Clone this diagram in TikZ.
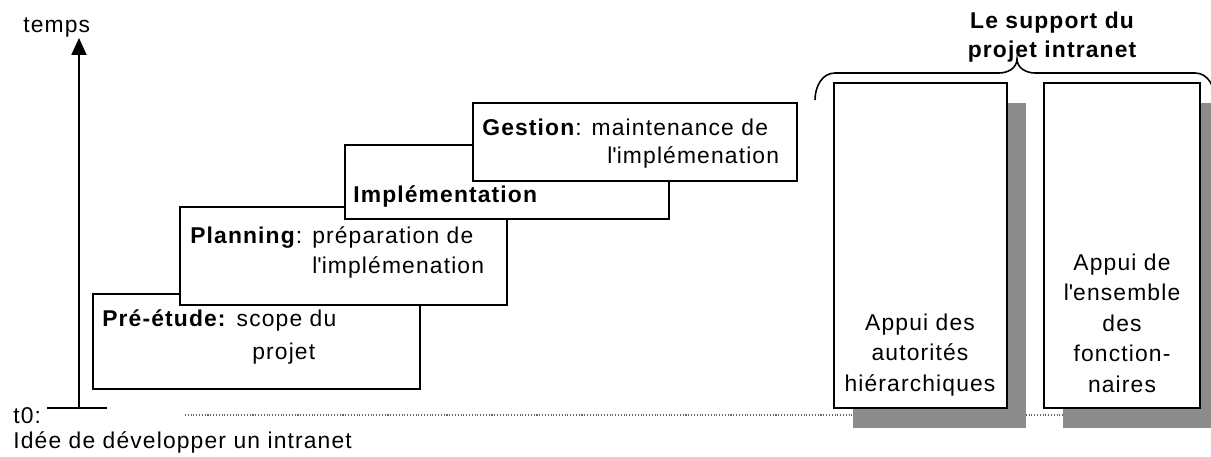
\documentclass[tikz,border=0pt]{standalone}
\usepackage{fontspec}
\setmainfont{Liberation Sans}[LetterSpace=5]
\usetikzlibrary{arrows.meta,shadows}

\begin{document}
\begin{tikzpicture}[
  stepbox/.style={draw, fill=white, line width=.9pt, inner sep=0pt},
  supportbox/.style={draw, fill=white, line width=.9pt, inner sep=0pt,
    minimum height=6.5cm,
    drop shadow={shadow xshift=.38cm, shadow yshift=-.4cm, fill=black!45, opacity=1}},
  lbl/.style={anchor=base west, inner sep=0pt, font=\fontsize{13}{15}\selectfont},
  boxtxt/.style={align=center, inner sep=0pt, font=\fontsize{13}{17.4}\selectfont}
]
\useasboundingbox (0,0) rectangle (24.22,9.12);

% time axis
\coordinate (origin) at (1.58,0.96);
\coordinate (top) at (1.58,8.36);
\coordinate (tl) at (0.94,0.96);
\coordinate (tr) at (2.14,0.96);
\draw[line width=1.1pt,-{Triangle[length=3.4mm,width=3mm]}] (origin) -- (top);
\draw[line width=1.1pt] (tl) -- (tr);
\node[lbl] (temps) at (0.46,8.46) {temps};
\node[lbl] (t0lbl) at (0.26,0.66) {t0:};
\node[lbl] (idea) at (0.26,0.16) {Idée de développer un intranet};

% base line
\coordinate (ls) at (3.70,0.82);
\coordinate (le) at (24.40,0.82);
\draw[black!60, densely dotted, line width=.6pt] (ls) -- (le);

% the four steps
\node[stepbox, minimum width=6.54cm, minimum height=1.90cm] (prestudy) at (5.13,2.29) {};
\node[lbl] (pre1) at (2.04,2.58) {\textbf{Pré-étude:} scope du};
\node[lbl] (pre2) at (5.04,1.92) {projet};

\node[stepbox, minimum width=6.54cm, minimum height=1.96cm] (planning) at (6.87,4.00) {};
\node[lbl] (plan1) at (3.80,4.24) {\textbf{Planning}: préparation de};
\node[lbl] (plan2) at (6.24,3.64) {l\textquotesingle implémenation};

\node[stepbox, minimum width=6.48cm, minimum height=1.48cm] (impl) at (10.14,5.48) {};
\node[lbl] (impl1) at (7.06,5.06) {\textbf{Implémentation}};

\node[stepbox, minimum width=6.48cm, minimum height=1.56cm] (gestion) at (12.70,6.28) {};
\node[lbl] (gest1) at (9.64,6.40) {\textbf{Gestion}: maintenance de};
\node[lbl] (gest2) at (12.14,5.84) {l\textquotesingle implémenation};

% support
\node[supportbox, minimum width=3.46cm] (chefs) at (18.41,4.21) {};
\node[boxtxt] (chefstxt) at (18.40,2.02) {Appui des\\autorités\\hiérarchiques};
\node[supportbox, minimum width=3.12cm] (staff) at (22.44,4.21) {};
\node[boxtxt] (stafftxt) at (22.44,2.66) {Appui de\\l\textquotesingle ensemble\\des\\fonction-\\naires};

\coordinate (bl) at (16.30,7.12);
\coordinate (bm) at (20.34,7.94);
\coordinate (br) at (24.30,7.12);
\draw[line width=.9pt] (bl) to[out=90,in=180] (16.70,7.66) -- (19.98,7.66)
  to[out=0,in=-90] (bm) to[out=-90,in=180] (20.70,7.66) -- (23.90,7.66)
  to[out=0,in=90] (br);
\node[align=center, inner sep=0pt, font=\bfseries\fontsize{13}{16.5}\selectfont] (title) at (21.04,8.37) {Le support du\\projet intranet};
\end{tikzpicture}
\end{document}
